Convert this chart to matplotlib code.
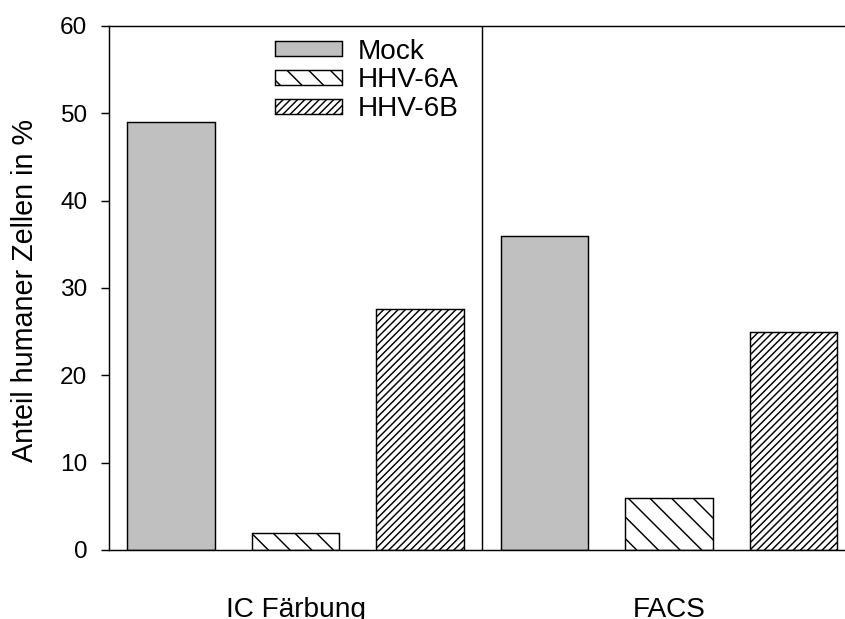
import numpy as np
import matplotlib
matplotlib.use("Agg")
from matplotlib import pyplot as plt

# data
groups = ["IC Färbung", "FACS"]
series = ["Mock", "HHV-6A", "HHV-6B"]
mock = [49.0, 36.0]
hhv6a = [2.0, 6.0]
hhv6b = [27.6, 25.0]
yticks = [0, 10, 20, 30, 40, 50, 60]

plt.rcParams['font.family'] = ['Liberation Sans', 'DejaVu Sans']
plt.rcParams['hatch.linewidth'] = 0.8

fig = plt.figure(figsize=(845 / 130, 619 / 130), dpi=130)
ax = fig.add_axes([108.7 / 845, 1 - 550 / 619, (856 - 108.7) / 845, (550 - 26) / 619])

x = np.arange(len(groups))
w = 0.234
step = 1 / 3
styles = [
    dict(facecolor="#c0c0c0", hatch=None),
    dict(facecolor="white", hatch="\\\\"),
    dict(facecolor="white", hatch="//////"),
]
for i, (vals, name) in enumerate(zip([mock, hhv6a, hhv6b], series)):
    ax.bar(x + (i - 1) * step, vals, width=w, edgecolor="black", linewidth=0.8,
           label=name, **styles[i])

ax.axvline(0.5, color="black", linewidth=0.8)

ax.set_xlim(-0.5, 1.5)
ax.set_ylim(0, 60)
ax.set_yticks(yticks)
ax.set_xticks(x)
ax.set_xticklabels(groups, fontsize=15.5)
ax.tick_params(axis="x", length=0, pad=26)
ax.tick_params(axis="y", length=4.4, width=0.8, pad=7.5, labelsize=13.5)
for s in ax.spines.values():
    s.set_linewidth(0.8)
ax.spines["right"].set_visible(False)

ax.set_ylabel("Anteil humaner Zellen in %", fontsize=15.9)
ax.yaxis.set_label_coords(-0.093, 0.496)

ax.legend(loc="upper left", bbox_to_anchor=(0.206, 1.0), frameon=False, fontsize=15.5,
          handlelength=2.4, handleheight=0.45, handletextpad=0.55, labelspacing=0.1,
          borderaxespad=0.05)

fig.savefig("out.png", dpi=130)
